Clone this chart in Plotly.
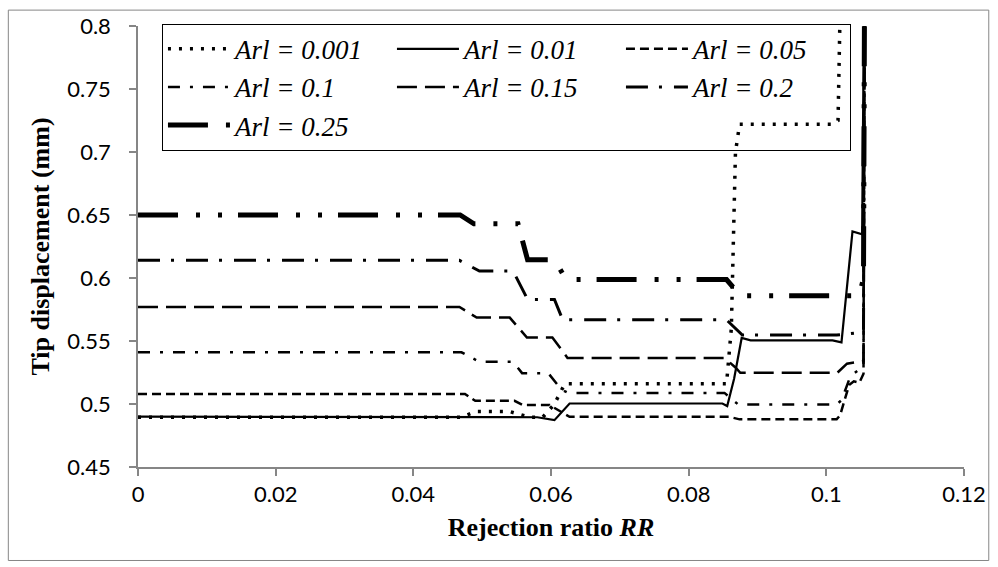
import plotly.graph_objects as go

# Tip displacement (mm) versus rejection ratio RR for several Arl values
rr_0001 = [0, 0.047, 0.049, 0.054, 0.0569, 0.0588, 0.0605, 0.0620, 0.0855, 0.0862, 0.0868, 0.0874, 0.1008, 0.1017, 0.1023]
tip_0001 = [0.4895, 0.4895, 0.494, 0.494, 0.4895, 0.4895, 0.500, 0.516, 0.516, 0.56, 0.70, 0.722, 0.722, 0.725, 0.9]

rr_001 = [0, 0.047, 0.058, 0.0605, 0.0627, 0.0849, 0.0856, 0.0866, 0.0877, 0.089, 0.1009, 0.1022, 0.1038, 0.1052, 0.1056]
tip_001 = [0.490, 0.490, 0.4895, 0.4872, 0.5004, 0.5004, 0.4984, 0.52, 0.5524, 0.5505, 0.5505, 0.5489, 0.637, 0.6347, 0.9]

rr_005 = [0, 0.0475, 0.049, 0.0547, 0.0559, 0.0598, 0.0627, 0.0859, 0.0874, 0.1015, 0.1020, 0.1033, 0.1040, 0.1048, 0.1054, 0.1056]
tip_005 = [0.508, 0.508, 0.5025, 0.5025, 0.4992, 0.4992, 0.4898, 0.4898, 0.4878, 0.4878, 0.491, 0.515, 0.518, 0.517, 0.524, 0.9]

rr_01 = [0, 0.047, 0.0496, 0.0545, 0.0558, 0.0596, 0.0615, 0.0625, 0.0852, 0.0872, 0.1015, 0.1022, 0.1035, 0.1046, 0.1054, 0.1056]
tip_01 = [0.541, 0.541, 0.5335, 0.5335, 0.5245, 0.5245, 0.5115, 0.5088, 0.5088, 0.4996, 0.4996, 0.503, 0.522, 0.527, 0.53, 0.9]

rr_015 = [0, 0.0467, 0.0492, 0.054, 0.0565, 0.0602, 0.0624, 0.0852, 0.0868, 0.0875, 0.1016, 0.1030, 0.1054, 0.1056]
tip_015 = [0.577, 0.577, 0.5686, 0.5686, 0.5528, 0.5528, 0.5366, 0.5366, 0.529, 0.5248, 0.5248, 0.532, 0.534, 0.9]

rr_02 = [0, 0.0467, 0.0496, 0.0545, 0.0566, 0.0605, 0.0617, 0.0855, 0.0878, 0.1015, 0.1054, 0.1056]
tip_02 = [0.614, 0.614, 0.6055, 0.6055, 0.583, 0.583, 0.5668, 0.5668, 0.5547, 0.5547, 0.557, 0.9]

rr_025 = [0, 0.0468, 0.0488, 0.0552, 0.0566, 0.0605, 0.0622, 0.0855, 0.0875, 0.1048, 0.1054, 0.1056]
tip_025 = [0.65, 0.65, 0.643, 0.643, 0.6144, 0.6144, 0.5988, 0.5988, 0.586, 0.586, 0.60, 0.9]

series_names = ["Arl = 0.001", "Arl = 0.01", "Arl = 0.05", "Arl = 0.1",
                "Arl = 0.15", "Arl = 0.2", "Arl = 0.25"]

x_ticks = [0, 0.02, 0.04, 0.06, 0.08, 0.1, 0.12]
x_tick_labels = ["0", "0.02", "0.04", "0.06", "0.08", "0.1", "0.12"]
y_ticks = [0.45, 0.5, 0.55, 0.6, 0.65, 0.7, 0.75, 0.8]
y_tick_labels = ["0.45", "0.5", "0.55", "0.6", "0.65", "0.7", "0.75", "0.8"]

xs = [rr_0001, rr_001, rr_005, rr_01, rr_015, rr_02, rr_025]
ys = [tip_0001, tip_001, tip_005, tip_01, tip_015, tip_02, tip_025]

# line styles: (width, dash)
styles = [
    (3.5, "3px,8px"),
    (2.2, "solid"),
    (2.5, "9px,5px"),
    (2.5, "12px,10px,3px,10px"),
    (2.5, "20px,8px"),
    (3.0, "22px,11px,3px,12px"),
    (5.0, "40px,18px,4px,18px,4px,16px"),
]

serif = "Times New Roman, Liberation Serif, serif"

fig = go.Figure()
for name, x, y, (w, d) in zip(series_names, xs, ys, styles):
    fig.add_trace(go.Scatter(
        x=x, y=y, name="<i>" + name + "</i>", mode="lines",
        line=dict(color="black", width=w, dash=d),
    ))

axis_col = "#868686"
tick_font = dict(family="Lato", size=22, color="black")

fig.update_layout(
    width=998, height=567,
    margin=dict(l=138, r=33, t=23, b=100),
    paper_bgcolor="white", plot_bgcolor="white",
    showlegend=True,
    legend=dict(
        orientation="h",
        x=0.029, xanchor="left", y=1.005, yanchor="top",
        entrywidth=152, entrywidthmode="pixels",
        itemwidth=62,
        bgcolor="rgba(0,0,0,0)",
        bordercolor="black", borderwidth=1,
        font=dict(family=serif, size=27, color="black"),
        traceorder="normal",
    ),
    xaxis=dict(
        range=[0, 0.12], tickvals=x_ticks, ticktext=x_tick_labels,
        showgrid=False, zeroline=False,
        showline=True, linecolor=axis_col, linewidth=1.5,
        ticks="outside", ticklen=7, tickcolor=axis_col, tickwidth=1.5,
        tickfont=tick_font, ticklabelstandoff=0,
        title=dict(text="Rejection ratio <i>RR</i>",
                   font=dict(family=serif, size=26, color="black", weight="bold"),
                   standoff=12),
    ),
    yaxis=dict(
        range=[0.45, 0.8], tickvals=y_ticks, ticktext=y_tick_labels,
        showgrid=False, zeroline=False,
        showline=True, linecolor=axis_col, linewidth=1.5,
        ticks="outside", ticklen=7, tickcolor=axis_col, tickwidth=1.5,
        tickfont=tick_font, ticklabelstandoff=14,
        title=dict(text="Tip displacement (mm)",
                   font=dict(family=serif, size=26, color="black", weight="bold"),
                   standoff=10),
    ),
    shapes=[dict(type="rect", xref="paper", yref="paper",
                 x0=-0.157, x1=1.03, y0=-0.212, y1=1.036,
                 line=dict(color=axis_col, width=1), layer="below")],
)

fig.write_html("out.html")
